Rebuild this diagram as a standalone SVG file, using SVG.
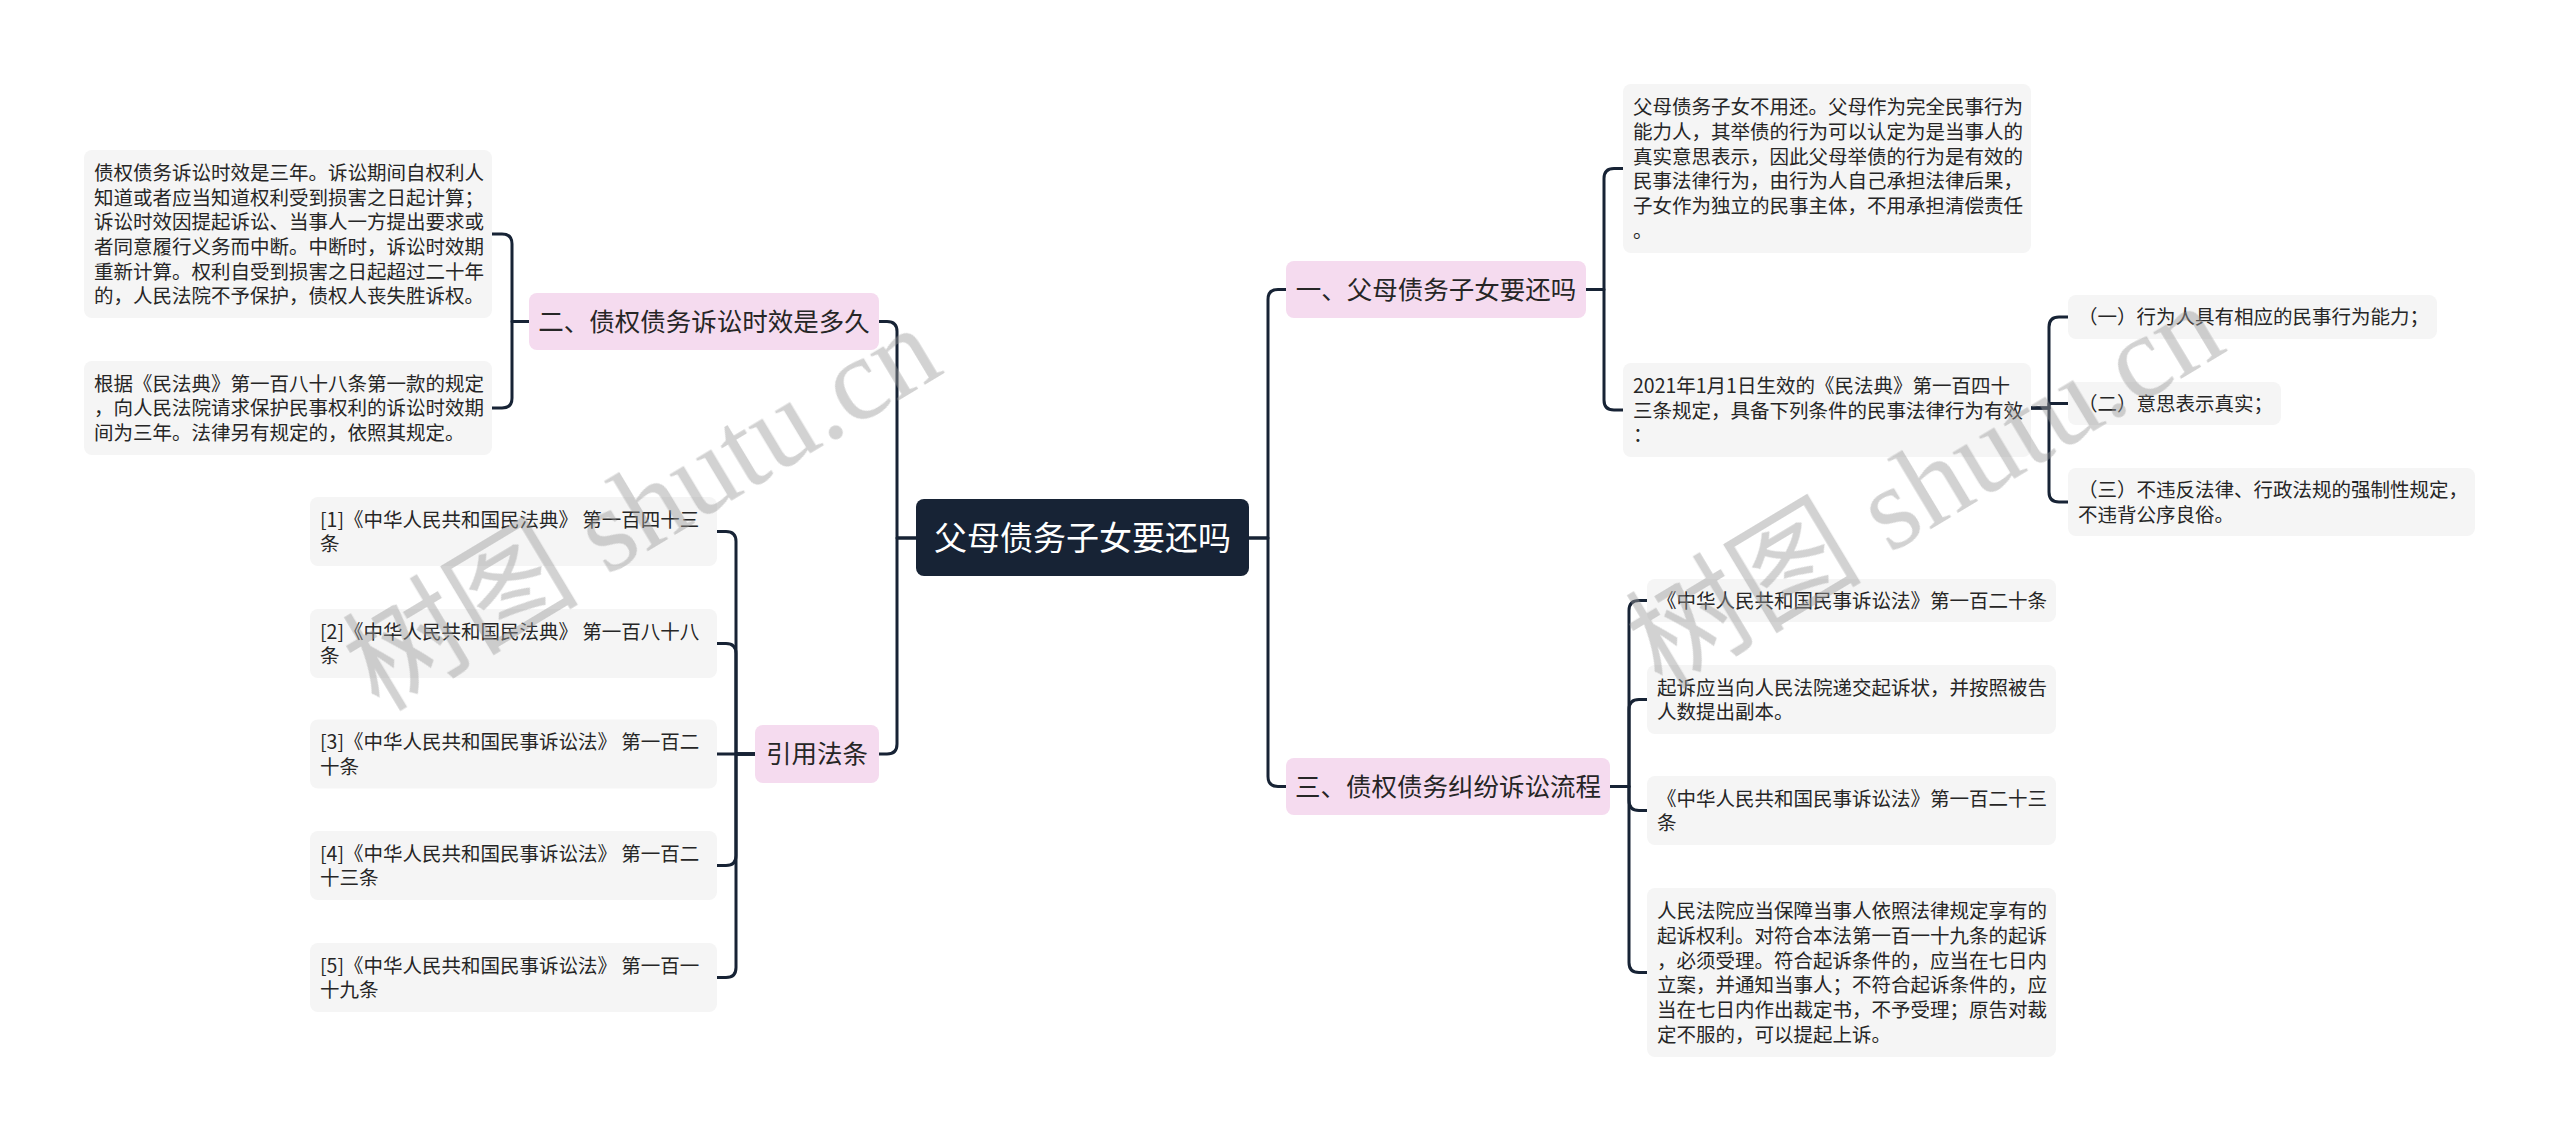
<svg xmlns="http://www.w3.org/2000/svg" width="2560" height="1141" viewBox="0 0 2560 1141">
<style>
.line{fill:none;stroke:#172335;stroke-width:3;stroke-linejoin:round;stroke-linecap:round}
.leaf{fill:#f5f5f5}
.topic{fill:#f5dbef}
.root{fill:#172335}
.lt{font-family:"Noto Sans CJK SC","Noto Sans",sans-serif;font-size:19.5px;fill:#262626}
.tt{font-family:"Noto Sans CJK SC","Noto Sans",sans-serif;font-size:25.5px;fill:#262626;text-anchor:middle}
.rt{font-family:"Noto Sans CJK SC","Noto Sans",sans-serif;font-size:33px;fill:#ffffff;text-anchor:middle}
.wm{font-family:"Liberation Serif","Noto Sans CJK SC",serif;font-size:118px;fill:#9a9a9a;text-anchor:middle}
</style>
<rect width="2560" height="1141" fill="#ffffff"/>
<g id="connectors">
<path class="line" d="M916,538 H897 V331.5 Q897,321.5 887,321.5 H879"/>
<path class="line" d="M916,538 H897 V744 Q897,754 887,754 H879"/>
<path class="line" d="M1249,538 H1268 V299.5 Q1268,289.5 1278,289.5 H1286"/>
<path class="line" d="M1249,538 H1268 V776.5 Q1268,786.5 1278,786.5 H1286"/>
<path class="line" d="M529,321.5 H512 V244 Q512,234 502,234 H492"/>
<path class="line" d="M529,321.5 H512 V398 Q512,408 502,408 H492"/>
<path class="line" d="M755,754 H736 V541.5 Q736,531.5 726,531.5 H717"/>
<path class="line" d="M755,754 H736 V653.5 Q736,643.5 726,643.5 H717"/>
<path class="line" d="M755,754 H717"/>
<path class="line" d="M755,754 H736 V855.5 Q736,865.5 726,865.5 H717"/>
<path class="line" d="M755,754 H736 V967.5 Q736,977.5 726,977.5 H717"/>
<path class="line" d="M1586,289.5 H1604 V178.5 Q1604,168.5 1614,168.5 H1623"/>
<path class="line" d="M1586,289.5 H1604 V400 Q1604,410 1614,410 H1623"/>
<path class="line" d="M2031,408 H2049 V327 Q2049,317 2059,317 H2068"/>
<path class="line" d="M2031,408 H2049 V403.5 H2068"/>
<path class="line" d="M2031,408 H2049 V492 Q2049,502 2059,502 H2068"/>
<path class="line" d="M1610,786.5 H1629 V610.5 Q1629,600.5 1639,600.5 H1647"/>
<path class="line" d="M1610,786.5 H1629 V709.5 Q1629,699.5 1639,699.5 H1647"/>
<path class="line" d="M1610,786.5 H1629 V800.5 Q1629,810.5 1639,810.5 H1647"/>
<path class="line" d="M1610,786.5 H1629 V962.5 Q1629,972.5 1639,972.5 H1647"/>
</g>
<g id="root">
<rect class="root" x="916" y="499" width="333" height="77" rx="8"/>
<text class="rt" x="1082.5" y="550">父母债务子女要还吗</text>
</g>
<g id="topic1">
<rect class="topic" x="1286" y="261" width="300" height="57" rx="8"/>
<text class="tt" x="1436" y="298.5">一、父母债务子女要还吗</text>
</g>
<g id="topic2">
<rect class="topic" x="529" y="293" width="350" height="57" rx="8"/>
<text class="tt" x="704" y="330.5">二、债权债务诉讼时效是多久</text>
</g>
<g id="topic3">
<rect class="topic" x="1286" y="758" width="324" height="57" rx="8"/>
<text class="tt" x="1448" y="795.5">三、债权债务纠纷诉讼流程</text>
</g>
<g id="topic4">
<rect class="topic" x="755" y="725" width="124" height="58" rx="8"/>
<text class="tt" x="817" y="763">引用法条</text>
</g>
<g id="leaf-2-1">
<rect class="leaf" x="84" y="150" width="408" height="168" rx="8"/>
<text class="lt" x="94"><tspan x="94" y="180">债权债务诉讼时效是三年。诉讼期间自权利人</tspan><tspan x="94" y="204.7">知道或者应当知道权利受到损害之日起计算；</tspan><tspan x="94" y="229.3">诉讼时效因提起诉讼、当事人一方提出要求或</tspan><tspan x="94" y="254">者同意履行义务而中断。中断时，诉讼时效期</tspan><tspan x="94" y="278.7">重新计算。权利自受到损害之日起超过二十年</tspan><tspan x="94" y="303.3">的，人民法院不予保护，债权人丧失胜诉权。</tspan></text>
</g>
<g id="leaf-2-2">
<rect class="leaf" x="84" y="361" width="408" height="94" rx="8"/>
<text class="lt"><tspan x="94" y="390.7">根据《民法典》第一百八十八条第一款的规定</tspan><tspan x="94" y="415.4">，向人民法院请求保护民事权利的诉讼时效期</tspan><tspan x="94" y="440">间为三年。法律另有规定的，依照其规定。</tspan></text>
</g>
<g id="ref-1">
<rect class="leaf" x="310" y="497" width="407" height="69" rx="8"/>
<text class="lt"><tspan x="320" y="526.6">[1]《中华人民共和国民法典》 第一百四十三</tspan><tspan x="320" y="551.2">条</tspan></text>
</g>
<g id="ref-2">
<rect class="leaf" x="310" y="609" width="407" height="69" rx="8"/>
<text class="lt"><tspan x="320" y="638.6">[2]《中华人民共和国民法典》 第一百八十八</tspan><tspan x="320" y="663.2">条</tspan></text>
</g>
<g id="ref-3">
<rect class="leaf" x="310" y="719.5" width="407" height="69" rx="8"/>
<text class="lt"><tspan x="320" y="749.1">[3]《中华人民共和国民事诉讼法》 第一百二</tspan><tspan x="320" y="773.7">十条</tspan></text>
</g>
<g id="ref-4">
<rect class="leaf" x="310" y="831" width="407" height="69" rx="8"/>
<text class="lt"><tspan x="320" y="860.6">[4]《中华人民共和国民事诉讼法》 第一百二</tspan><tspan x="320" y="885.2">十三条</tspan></text>
</g>
<g id="ref-5">
<rect class="leaf" x="310" y="943" width="407" height="69" rx="8"/>
<text class="lt"><tspan x="320" y="972.6">[5]《中华人民共和国民事诉讼法》 第一百一</tspan><tspan x="320" y="997.2">十九条</tspan></text>
</g>
<g id="leaf-1-1">
<rect class="leaf" x="1623" y="84" width="408" height="169" rx="8"/>
<text class="lt"><tspan x="1633" y="114.2">父母债务子女不用还。父母作为完全民事行为</tspan><tspan x="1633" y="138.9">能力人，其举债的行为可以认定为是当事人的</tspan><tspan x="1633" y="163.5">真实意思表示，因此父母举债的行为是有效的</tspan><tspan x="1633" y="188.2">民事法律行为，由行为人自己承担法律后果，</tspan><tspan x="1633" y="212.9">子女作为独立的民事主体，不用承担清偿责任</tspan><tspan x="1633" y="237.5">。</tspan></text>
</g>
<g id="leaf-1-2">
<rect class="leaf" x="1623" y="363" width="408" height="94" rx="8"/>
<text class="lt"><tspan x="1633" y="393">2021年1月1日生效的《民法典》第一百四十</tspan><tspan x="1633" y="417.7">三条规定，具备下列条件的民事法律行为有效</tspan><tspan x="1633" y="442.3">：</tspan></text>
</g>
<g id="cond-1">
<rect class="leaf" x="2068" y="295" width="369" height="44" rx="8"/>
<text class="lt" x="2078" y="324.4">（一）行为人具有相应的民事行为能力；</text>
</g>
<g id="cond-2">
<rect class="leaf" x="2068" y="382" width="213" height="43" rx="8"/>
<text class="lt" x="2078" y="410.9">（二）意思表示真实；</text>
</g>
<g id="cond-3">
<rect class="leaf" x="2068" y="468" width="407" height="68" rx="8"/>
<text class="lt"><tspan x="2078" y="497.1">（三）不违反法律、行政法规的强制性规定，</tspan><tspan x="2078" y="521.7">不违背公序良俗。</tspan></text>
</g>
<g id="leaf-3-1">
<rect class="leaf" x="1647" y="579" width="409" height="43" rx="8"/>
<text class="lt" x="1657" y="607.9">《中华人民共和国民事诉讼法》第一百二十条</text>
</g>
<g id="leaf-3-2">
<rect class="leaf" x="1647" y="665" width="409" height="69" rx="8"/>
<text class="lt"><tspan x="1657" y="694.6">起诉应当向人民法院递交起诉状，并按照被告</tspan><tspan x="1657" y="719.2">人数提出副本。</tspan></text>
</g>
<g id="leaf-3-3">
<rect class="leaf" x="1647" y="776" width="409" height="69" rx="8"/>
<text class="lt"><tspan x="1657" y="805.6">《中华人民共和国民事诉讼法》第一百二十三</tspan><tspan x="1657" y="830.2">条</tspan></text>
</g>
<g id="leaf-3-4">
<rect class="leaf" x="1647" y="888" width="409" height="169" rx="8"/>
<text class="lt"><tspan x="1657" y="918.2">人民法院应当保障当事人依照法律规定享有的</tspan><tspan x="1657" y="942.9">起诉权利。对符合本法第一百一十九条的起诉</tspan><tspan x="1657" y="967.5">，必须受理。符合起诉条件的，应当在七日内</tspan><tspan x="1657" y="992.2">立案，并通知当事人；不符合起诉条件的，应</tspan><tspan x="1657" y="1016.9">当在七日内作出裁定书，不予受理；原告对裁</tspan><tspan x="1657" y="1041.5">定不服的，可以提起上诉。</tspan></text>
</g>
<g id="watermarks" opacity="0.45">
<text class="wm" transform="translate(642,508) rotate(-31)" x="0" y="40">树图 shutu.cn</text>
<text class="wm" transform="translate(1925,486) rotate(-31)" x="0" y="40">树图 shutu.cn</text>
</g>
</svg>
